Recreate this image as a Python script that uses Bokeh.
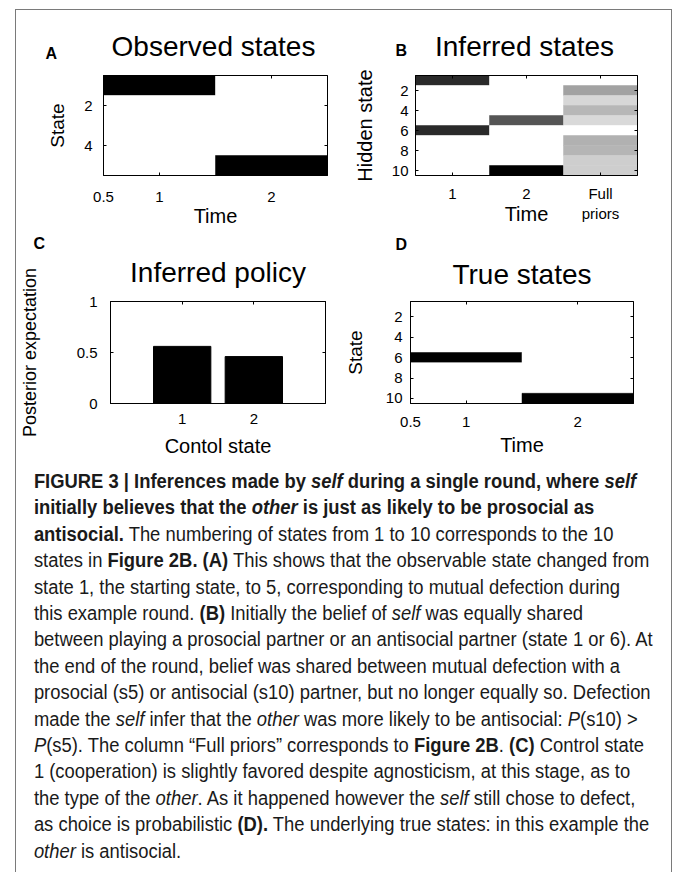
from bokeh.plotting import figure
from bokeh.models import Range1d, FixedTicker, LinearAxis, Label, Div, ColumnDataSource
from bokeh.layouts import row, column
from bokeh.transform import linear_cmap
from bokeh.palettes import Greys256
from bokeh.embed import file_html
from bokeh.resources import INLINE

FONT = "Liberation Sans"

# ---------------- data ----------------
times = [1, 2]
observed_states = [1, 5]          # panel A: observed state at each time
n_observed_states = 5
true_states = [6, 10]             # panel D: true hidden state at each time
n_hidden_states = 10
inferred_columns = [1, 2, 3]      # panel B columns (time 1, time 2, full priors)
inferred_t1 = [0.5, 0, 0, 0, 0, 0.5, 0, 0, 0, 0]
inferred_t2 = [0, 0, 0, 0, 0.4, 0, 0, 0, 0, 0.6]
full_priors = [0, 0.22, 0.095, 0.17, 0.09, 0, 0.185, 0.175, 0.115, 0.115]
control_states = [1, 2]
policy_expectation = [0.56, 0.46]

panel_letters = ["A", "B", "C", "D"]
panel_titles = ["Observed states", "Inferred states", "Inferred policy", "True states"]

x_ticks_time = [0.5, 1, 2]
x_tick_labels_time = {0.5: "0.5", 1: "1", 2: "2"}
y_ticks_a = [2, 4]
y_ticks_hidden = [2, 4, 6, 8, 10]
x_ticks_b = [1, 2, 3]
x_tick_labels_b = {1: "1", 2: "2", 3: "Full\npriors"}
y_ticks_c = [0, 0.5, 1]
y_tick_labels_c = {0: "0", 0.5: "0.5", 1: "1"}
x_ticks_c = [1, 2]

GREYS = list(Greys256)[::-1]   # white (low) -> black (high)
W = 655


def make_fig(w, h, bl, br, bt, bb, xr, yr):
    p = figure(width=w, height=h, x_range=xr, y_range=yr, title=None,
               output_backend="svg", toolbar_location=None,
               min_border_left=bl, min_border_right=br,
               min_border_top=bt, min_border_bottom=bb)
    p.xgrid.visible = False
    p.ygrid.visible = False
    p.outline_line_color = "black"
    p.outline_line_alpha = 1
    p.background_fill_color = "white"
    p.border_fill_color = "white"
    return p


def header_fig(h):
    p = figure(width=W, height=h, x_range=Range1d(0, W), y_range=Range1d(h, 0), title=None,
               output_backend="svg", toolbar_location=None, min_border=0,
               x_axis_location=None, y_axis_location=None)
    p.xgrid.visible = False
    p.ygrid.visible = False
    p.outline_line_color = None
    p.background_fill_color = "white"
    p.border_fill_color = "white"
    return p


def style_axis(ax, ticks, overrides, standoff, label, label_size, label_standoff):
    ax.ticker = FixedTicker(ticks=ticks)
    ax.major_tick_in = 3
    ax.major_tick_out = 0
    ax.minor_tick_in = 0
    ax.minor_tick_out = 0
    ax.major_tick_line_color = "black"
    ax.axis_line_color = "black"
    ax.major_label_text_font = FONT
    ax.major_label_text_font_size = "15px"
    ax.major_label_text_color = "black"
    ax.major_label_standoff = standoff
    if overrides is not None:
        ax.major_label_overrides = overrides
    ax.axis_label = label
    ax.axis_label_text_font = FONT
    ax.axis_label_text_font_size = label_size
    ax.axis_label_text_font_style = "normal"
    ax.axis_label_text_color = "black"
    ax.axis_label_standoff = label_standoff


def box_axes(p, xticks, yticks, top_label=None, top_label_standoff=0):
    top = LinearAxis(ticker=FixedTicker(ticks=xticks),
                     major_label_overrides={t: "" for t in xticks})
    right = LinearAxis(ticker=FixedTicker(ticks=yticks),
                       major_label_overrides={t: "" for t in yticks})
    for ax in (top, right):
        ax.major_tick_in = 3
        ax.major_tick_out = 0
        ax.minor_tick_in = 0
        ax.minor_tick_out = 0
        ax.major_tick_line_color = "black"
        ax.axis_line_color = "black"
        ax.major_label_standoff = 0
        ax.major_label_text_font_size = "1px"
    if top_label:
        # panel title drawn as the label of the top (box) axis
        top.axis_label = top_label
        top.axis_label_text_font = FONT
        top.axis_label_text_font_size = "28px"
        top.axis_label_text_font_style = "normal"
        top.axis_label_text_color = "black"
        top.axis_label_standoff = top_label_standoff
    p.add_layout(top, "above")
    p.add_layout(right, "right")


def head_label(p, text, x, baseline, size_px, align="left", bold=False):
    # Bokeh anchors these labels about 0.33 em above the glyph baseline
    p.add_layout(Label(x=x, y=baseline - 0.33 * size_px, text=text, text_font=FONT,
                       text_font_size=f"{size_px}px", text_align=align,
                       text_baseline="alphabetic", text_color="black",
                       text_font_style="bold" if bold else "normal"))


def onehot_source(states, n):
    xs, ys, vs = [], [], []
    for t, s_now in zip(times, states):
        for s in range(1, n + 1):
            xs.append(t)
            ys.append(s)
            vs.append(1.0 if s == s_now else 0.0)
    return ColumnDataSource(dict(x=xs, y=ys, v=vs))


# ---------------- header row 1 (letters + titles) ----------------
h1 = header_fig(53)
head_label(h1, panel_letters[0], 29, 48, 16, bold=True)
head_label(h1, panel_titles[0], 197, 45, 28, align="center")
head_label(h1, panel_letters[1], 379, 45, 16, bold=True)
head_label(h1, panel_titles[1], 508, 45, 28, align="center")

# ---------------- panel A ----------------
pA = make_fig(324, 170, 87, 13, 12, 55, Range1d(0.5, 2.5), Range1d(n_observed_states + 0.5, 0.5))
srcA = onehot_source(observed_states, n_observed_states)
cmA = linear_cmap("v", GREYS, 0, 1)
pA.rect(x="x", y="y", width=1, height=1, source=srcA, fill_color=cmA, line_color=cmA, line_width=0.5)
style_axis(pA.below[0], x_ticks_time, x_tick_labels_time, 16, "Time", "20px", 0)
style_axis(pA.left[0], y_ticks_a, None, 11, "State", "19px", 13)
box_axes(pA, x_ticks_time, y_ticks_a)

# ---------------- panel B ----------------
pB = make_fig(331, 170, 75, 34, 8, 58, Range1d(0.5, 3.5), Range1d(n_hidden_states + 0.5, 0.5))
bx, by, bv = [], [], []
for col, vals in zip(inferred_columns, [inferred_t1, inferred_t2, full_priors]):
    for s, v in enumerate(vals, start=1):
        bx.append(col)
        by.append(s)
        bv.append(v)
srcB = ColumnDataSource(dict(x=bx, y=by, v=bv))
cmB = linear_cmap("v", GREYS, 0, max(bv))
pB.rect(x="x", y="y", width=1, height=1, source=srcB, fill_color=cmB, line_color=cmB, line_width=0.5)
style_axis(pB.below[0], x_ticks_b, x_tick_labels_b, 9, "Time", "20px", -22)
style_axis(pB.left[0], y_ticks_hidden, None, 7, "Hidden state", "20px", 13)
box_axes(pB, x_ticks_b, y_ticks_hidden)

# ---------------- header row 2 (letters) ----------------
h2 = header_fig(20)
head_label(h2, panel_letters[2], 17, 15, 16, bold=True)
head_label(h2, panel_letters[3], 379, 16, 16, bold=True)

# ---------------- panel C ----------------
pC = make_fig(324, 209, 89, 15, 47, 59, Range1d(0, 3), Range1d(0, 1))
pC.vbar(x=control_states, top=policy_expectation, width=0.8,
        fill_color="black", line_color="black")
style_axis(pC.below[0], x_ticks_c, None, 10, "Contol state", "20px", 8)
style_axis(pC.left[0], y_ticks_c, y_tick_labels_c, 13, "Posterior expectation", "18px", 34)
box_axes(pC, x_ticks_c, y_ticks_c, panel_titles[2], 14)

# ---------------- panel D ----------------
pD = make_fig(331, 209, 70, 38, 47, 58, Range1d(0.5, 2.5), Range1d(n_hidden_states + 0.5, 0.5))
srcD = onehot_source(true_states, n_hidden_states)
cmD = linear_cmap("v", GREYS, 0, 1)
pD.rect(x="x", y="y", width=1, height=1, source=srcD, fill_color=cmD, line_color=cmD, line_width=0.5)
style_axis(pD.below[0], x_ticks_time, x_tick_labels_time, 13, "Time", "20px", 4)
style_axis(pD.left[0], y_ticks_hidden, None, 8, "State", "19px", 17)
box_axes(pD, x_ticks_time, y_ticks_hidden, panel_titles[3], 12)

# ---------------- caption ----------------
caption_lines = [
    "<b>FIGURE 3 | Inferences made by <i>self</i> during a single round, where <i>self</i></b>",
    "<b>initially believes that the <i>other</i> is just as likely to be prosocial as</b>",
    "<b>antisocial.</b> The numbering of states from 1 to 10 corresponds to the 10",
    "states in <b>Figure 2B. (A)</b> This shows that the observable state changed from",
    "state 1, the starting state, to 5, corresponding to mutual defection during",
    "this example round. <b>(B)</b> Initially the belief of <i>self</i> was equally shared",
    "between playing a prosocial partner or an antisocial partner (state 1 or 6). At",
    "the end of the round, belief was shared between mutual defection with a",
    "prosocial (s5) or antisocial (s10) partner, but no longer equally so. Defection",
    "made the <i>self</i> infer that the <i>other</i> was more likely to be antisocial: <i>P</i>(s10) &gt;",
    "<i>P</i>(s5). The column \u201cFull priors\u201d corresponds to <b>Figure 2B</b>. <b>(C)</b> Control state",
    "1 (cooperation) is slightly favored despite agnosticism, at this stage, as to",
    "the type of the <i>other</i>. As it happened however the <i>self</i> still chose to defect,",
    "as choice is probabilistic <b>(D).</b> The underlying true states: in this example the",
    "<i>other</i> is antisocial.",
]
caption_html = (
    "<div style=\"padding:1px 0 0 14px; font-family:'Liberation Sans',Arial,sans-serif;"
    " font-size:20px; line-height:26.4px; color:#1a1a1a; white-space:nowrap;"
    " transform:scaleX(0.92); transform-origin:0 0;\">" + "<br>".join(caption_lines) + "</div>"
)
cap = Div(text=caption_html, width=W, height=400, styles={"overflow": "hidden"})

layout = column(
    h1,
    row(pA, pB),
    h2,
    row(pC, pD),
    cap,
    width=W + 2,
    styles={"margin-left": "15px", "margin-top": "9px", "box-sizing": "border-box",
            "border-left": "1px solid #7a7a7a", "border-top": "1px solid #7a7a7a",
            "border-right": "1px solid #7a7a7a"},
)

open("out.html", "w").write(file_html(layout, INLINE))
